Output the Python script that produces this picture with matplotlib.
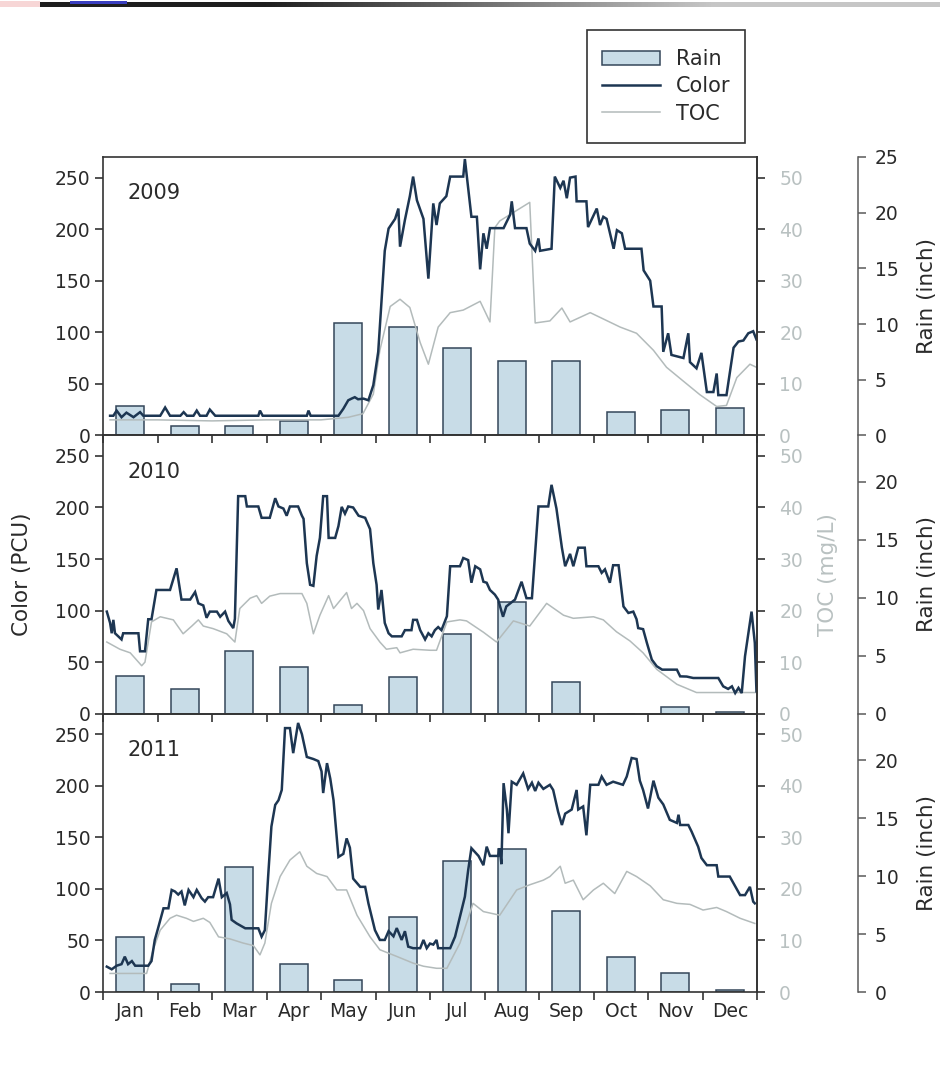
import numpy as np
import matplotlib
matplotlib.use("Agg")
import matplotlib.pyplot as plt
from matplotlib.patches import Patch, Rectangle
from matplotlib.lines import Line2D
from matplotlib.colors import LinearSegmentedColormap

plt.rcParams['font.family'] = ['DejaVu Sans']

# ---------------- data ----------------
months = ['Jan', 'Feb', 'Mar', 'Apr', 'May', 'Jun',
          'Jul', 'Aug', 'Sep', 'Oct', 'Nov', 'Dec']
years = ['2009', '2010', '2011']

# monthly rain (inch)
rain_2009 = [2.6, 0.8, 0.8, 1.25, 10.1, 9.7, 7.8, 6.7, 6.7, 2.1, 2.25, 2.45]
rain_2010 = [3.25, 2.1, 5.4, 4.05, 0.75, 3.2, 6.9, 9.65, 2.7, 0.0, 0.6, 0.15]
rain_2011 = [4.7, 0.7, 10.8, 2.4, 1.0, 6.5, 11.3, 12.35, 7.0, 3.0, 1.6, 0.2]

# Color (PCU): time in months since Jan 1, value
color_t_2009 = [0.13, 0.19, 0.25, 0.34, 0.43, 0.56, 0.68, 0.74, 1.05, 1.14, 1.23, 1.42,
                1.48, 1.54, 1.66, 1.72, 1.78, 1.90, 1.96, 2.06, 2.85, 2.88, 2.93, 3.74,
                3.77, 3.81, 4.32, 4.41, 4.50, 4.56, 4.62, 4.68, 4.78, 4.87, 4.96, 5.05,
                5.11, 5.17, 5.24, 5.36, 5.42, 5.45, 5.54, 5.63, 5.69, 5.76, 5.88, 5.97,
                6.06, 6.12, 6.18, 6.30, 6.37, 6.61, 6.64, 6.76, 6.86, 6.92, 6.98, 7.04,
                7.10, 7.35, 7.47, 7.50, 7.56, 7.77, 7.83, 7.93, 7.99, 8.02, 8.23, 8.29,
                8.39, 8.45, 8.51, 8.57, 8.67, 8.69, 8.87, 8.90, 9.06, 9.12, 9.18, 9.24,
                9.37, 9.43, 9.52, 9.58, 9.88, 9.92, 10.04, 10.10, 10.25, 10.28, 10.37,
                10.43, 10.65, 10.74, 10.77, 10.89, 10.98, 11.08, 11.20, 11.26, 11.29,
                11.44, 11.57, 11.66, 11.75, 11.84, 11.93, 11.99]
color_2009 = [19, 19, 24, 17.6, 22, 17.6, 22.5, 19, 19, 27, 19, 19,
              22.5, 19, 19, 24, 19, 19, 25, 19, 19, 24, 19, 19,
              24, 19, 19, 25.8, 34, 35.6, 37, 35, 35.6, 34, 48.7, 81,
              130, 179, 200.6, 210, 220, 183, 209, 232, 251, 228, 210, 152,
              225, 204, 225, 232, 251, 251, 268, 212, 212, 161, 196, 181,
              201, 201, 214, 227, 201, 201, 186, 179, 191, 179, 181, 251,
              240, 247, 230, 250, 251, 227, 227, 202, 220, 204, 212, 210,
              181, 199, 196, 181, 181, 160, 150, 125, 125, 81, 99,
              78, 75, 99, 71, 65, 80, 42, 42, 60, 39,
              39, 85, 91, 92, 99, 101, 93]

color_t_2010 = [0.07, 0.13, 0.16, 0.19, 0.22, 0.34, 0.37, 0.65, 0.68, 0.77, 0.83, 0.89,
                0.98, 1.23, 1.35, 1.44, 1.60, 1.69, 1.75, 1.84, 1.90, 1.96, 2.09, 2.15,
                2.24, 2.30, 2.39, 2.42, 2.48, 2.61, 2.64, 2.85, 2.91, 3.06, 3.16, 3.22,
                3.31, 3.37, 3.43, 3.58, 3.65, 3.68, 3.74, 3.80, 3.86, 3.92, 3.98, 4.04,
                4.11, 4.14, 4.26, 4.32, 4.38, 4.44, 4.50, 4.59, 4.69, 4.81, 4.90, 4.96,
                5.02, 5.05, 5.11, 5.17, 5.24, 5.30, 5.48, 5.54, 5.66, 5.69, 5.76, 5.82,
                5.91, 5.97, 6.03, 6.09, 6.15, 6.21, 6.31, 6.37, 6.55, 6.61, 6.70, 6.76,
                6.83, 6.92, 6.98, 7.04, 7.10, 7.19, 7.25, 7.34, 7.40, 7.56, 7.68, 7.77,
                7.87, 7.99, 8.17, 8.23, 8.32, 8.42, 8.48, 8.57, 8.63, 8.72, 8.84, 8.87,
                9.09, 9.15, 9.21, 9.30, 9.36, 9.46, 9.55, 9.64, 9.73, 9.79, 9.82, 9.91,
                9.98, 10.07, 10.16, 10.26, 10.53, 10.59, 10.71, 10.83, 11.29, 11.38, 11.47,
                11.54, 11.60, 11.66, 11.72, 11.78, 11.90, 11.96, 11.99]
color_2010 = [99, 88, 78, 91, 78, 72, 78, 78, 60.5, 60.5, 91.6, 91.6,
              120, 120, 141, 110.7, 110.7, 118, 107, 105, 93, 99, 99, 94,
              99, 90, 83, 92, 211, 211, 201, 201, 190, 190, 209, 201,
              199, 192, 201, 201, 192, 189, 146, 125, 124, 153, 170.5, 211,
              211, 170.5, 170.5, 182, 200.6, 194, 201, 200, 192, 190, 179, 146,
              125, 101, 120, 88, 78, 75, 75, 81, 81, 91, 91, 81,
              72, 78, 75, 81, 84, 81, 94.5, 143, 143, 151, 149, 127,
              143, 140, 128, 127, 120, 115.5, 110.7, 94, 104, 110.7, 128, 112,
              112, 201, 201, 222, 199, 161, 143, 155, 143, 161, 161, 143,
              143, 136.6, 140, 127, 144, 144, 104, 97.7, 99, 91.6, 83, 82,
              68.6, 52.4, 46, 42.7, 42.7, 36.2, 36, 34.6, 34.6, 26.5, 24,
              26.5, 20, 25, 20, 55.7, 99, 68.6, 21.7]

color_t_2011 = [0.07, 0.16, 0.25, 0.34, 0.40, 0.46, 0.53, 0.59, 0.74, 0.83, 0.89, 0.95,
                1.01, 1.11, 1.20, 1.26, 1.32, 1.38, 1.44, 1.50, 1.57, 1.66, 1.72, 1.81,
                1.87, 1.93, 2.02, 2.12, 2.18, 2.27, 2.33, 2.36, 2.45, 2.61, 2.85, 2.91,
                2.97, 3.03, 3.09, 3.16, 3.22, 3.28, 3.34, 3.43, 3.49, 3.58, 3.65, 3.74,
                3.86, 3.95, 4.01, 4.04, 4.11, 4.17, 4.23, 4.32, 4.41, 4.47, 4.53, 4.59,
                4.72, 4.81, 4.87, 4.99, 5.08, 5.17, 5.24, 5.33, 5.39, 5.48, 5.54, 5.60,
                5.69, 5.82, 5.88, 5.94, 6.00, 6.06, 6.12, 6.15, 6.37, 6.46, 6.55, 6.64,
                6.70, 6.76, 6.89, 6.98, 7.04, 7.10, 7.25, 7.28, 7.31, 7.35, 7.41, 7.44,
                7.50, 7.59, 7.71, 7.80, 7.87, 7.93, 7.99, 8.08, 8.20, 8.26, 8.35, 8.42,
                8.48, 8.60, 8.69, 8.72, 8.81, 8.87, 8.94, 9.09, 9.15, 9.24, 9.36, 9.54,
                9.61, 9.70, 9.79, 9.85, 9.91, 10.00, 10.10, 10.19, 10.28, 10.40, 10.53,
                10.56, 10.59, 10.74, 10.80, 10.92, 10.98, 11.08, 11.26, 11.29, 11.50,
                11.69, 11.78, 11.87, 11.93, 11.96]
color_2011 = [24.6, 22, 25.5, 27, 34.3, 27, 30, 25.5, 25.5, 25.5, 30, 50.5,
              61.8, 81.2, 81.2, 99, 97.5, 94.5, 97.5, 84, 99, 92, 99, 91,
              87.7, 92, 92, 110, 92, 96, 85, 70, 66.6, 61.8, 61.8, 53.7,
              60, 112, 160.5, 181.5, 186, 196, 256, 256, 231.7, 261, 250, 228,
              226, 224, 214, 193, 222, 207, 186, 131, 134, 149, 140, 110,
              102, 102, 86, 60, 50.5, 50.5, 59, 54, 62, 50.5, 59, 44,
              42.5, 42.5, 50.5, 42.5, 47, 46, 50.5, 42.5, 42.5, 53.7, 73, 92.5,
              118, 139.5, 132, 123, 141, 132, 132, 139.5, 124, 202.6, 177, 154,
              204, 201, 212, 197, 203, 195, 203, 197, 201, 196, 175, 162,
              173, 177, 196, 177, 180, 152, 201, 201, 209, 201, 204, 201,
              209, 227, 226, 205, 196, 178, 205, 188.5, 182, 167, 164,
              172, 162, 162, 155.6, 141, 130, 123, 123, 112, 112,
              94, 94, 102, 87.7, 86]

# TOC (mg/L)
toc_t_2009 = [0.13, 1.0, 2.0, 3.0, 4.0, 4.5, 4.77, 4.96, 5.08, 5.27, 5.45, 5.63, 5.82,
              5.97, 6.15, 6.37, 6.61, 6.92, 7.10, 7.19, 7.28, 7.83, 7.93, 8.20, 8.42,
              8.57, 8.94, 9.49, 9.79, 10.10, 10.34, 10.65, 10.95, 11.26, 11.44, 11.63,
              11.87, 11.99]
toc_2009 = [3.0, 3.0, 2.8, 3.0, 3.0, 3.5, 4.2, 8.0, 16.5, 25.0, 26.4, 24.8, 18.0,
            13.8, 21.0, 23.8, 24.3, 26.0, 22.0, 40.3, 41.6, 45.2, 21.8, 22.2, 24.7,
            22.0, 23.8, 21.0, 19.8, 16.5, 13.2, 10.5, 7.9, 5.6, 5.8, 11.2,
            13.8, 13.2]

toc_t_2010 = [0.07, 0.31, 0.50, 0.71, 0.77, 0.89, 1.05, 1.29, 1.47, 1.63, 1.75, 1.84,
              2.02, 2.27, 2.42, 2.51, 2.70, 2.82, 2.91, 3.06, 3.25, 3.65, 3.74, 3.86,
              3.98, 4.14, 4.23, 4.47, 4.56, 4.66, 4.78, 4.90, 5.08, 5.20, 5.39, 5.45,
              5.69, 6.00, 6.12, 6.31, 6.55, 6.67, 6.98, 7.22, 7.53, 7.83, 8.14, 8.45,
              8.63, 9.00, 9.18, 9.42, 9.67, 9.91, 10.16, 10.53, 10.89, 11.26, 11.63,
              11.99]
toc_2010 = [13.9, 12.5, 11.8, 9.3, 10.0, 17.8, 18.8, 18.2, 15.5, 17.0, 18.2, 17.0,
            16.5, 15.5, 13.9, 20.4, 22.4, 22.9, 21.4, 22.8, 23.3, 23.3, 21.4, 15.5,
            19.1, 22.9, 20.4, 23.5, 20.4, 21.4, 20.0, 16.5, 13.9, 12.5, 12.8, 11.8,
            12.5, 12.3, 12.3, 17.8, 18.2, 18.0, 15.8, 13.9, 18.0, 17.0, 21.4, 19.1,
            18.5, 18.8, 18.2, 15.9, 14.1, 11.8, 8.6, 5.7, 4.1, 4.1, 4.1,
            4.1]

toc_t_2011 = [0.13, 0.80, 0.92, 1.05, 1.23, 1.35, 1.53, 1.66, 1.84, 1.96, 2.12, 2.33,
              2.57, 2.76, 2.88, 2.97, 3.09, 3.25, 3.43, 3.61, 3.74, 3.92, 4.11, 4.29,
              4.47, 4.66, 4.90, 5.08, 5.39, 5.69, 5.88, 6.12, 6.31, 6.55, 6.70, 6.79,
              6.98, 7.28, 7.59, 7.83, 8.08, 8.20, 8.39, 8.48, 8.63, 8.81, 9.00, 9.18,
              9.39, 9.61, 9.79, 10.04, 10.28, 10.53, 10.77, 11.01, 11.26, 11.44, 11.69,
              11.96]
toc_2011 = [3.6, 3.6, 8.2, 12.0, 14.3, 14.9, 14.3, 13.7, 14.3, 13.5, 10.7, 10.3,
            9.5, 9.0, 7.2, 9.5, 17.2, 22.4, 25.6, 27.2, 24.4, 23.0, 22.4, 19.8,
            19.8, 14.9, 10.7, 8.2, 6.9, 5.6, 5.0, 4.6, 4.6, 9.5, 14.3, 17.2,
            15.6, 14.9, 19.8, 20.8, 21.7, 22.4, 24.4, 21.1, 21.7, 17.9, 19.8, 21.1,
            19.1, 23.4, 22.4, 20.6, 17.9, 17.2, 17.0, 15.9, 16.4, 15.6, 14.3,
            13.3]

rain_max = [25, 24, 24]
rain_ticks = [[0, 5, 10, 15, 20, 25], [0, 5, 10, 15, 20], [0, 5, 10, 15, 20]]
legend_labels = ['Rain', 'Color', 'TOC']

panels = [
    (years[0], rain_2009, color_t_2009, color_2009, toc_t_2009, toc_2009),
    (years[1], rain_2010, color_t_2010, color_2010, toc_t_2010, toc_2010),
    (years[2], rain_2011, color_t_2011, color_2011, toc_t_2011, toc_2011),
]

# ---------------- style ----------------
C_LINE = '#1d3652'
C_TOC = '#b3bbbb'
C_TOC_TXT = '#b9c1c1'
BAR_FC = '#c8dce7'
BAR_EC = '#34465a'
AX_C = '#333333'
TXT = '#2a2a2a'

W, H = 940, 1073
fig = plt.figure(figsize=(W / 100, H / 100), dpi=100)
fig.patch.set_facecolor('white')

L = 103 / W
R = 757 / W
TOP = 1 - 157 / H
BOT = 1 - 992 / H
PH = (TOP - BOT) / 3

xc = np.arange(12) + 0.5

for i, (yr, rain, ct, cv, tt, tv) in enumerate(panels):
    ax = fig.add_axes([L, TOP - (i + 1) * PH, R - L, PH])
    ax_r = ax.twinx()
    ax_t = ax.twinx()
    ax_r.set_zorder(1)
    ax_t.set_zorder(2)
    ax.set_zorder(3)
    ax.patch.set_visible(False)

    ax_r.bar(xc, rain, width=0.52, color=BAR_FC, edgecolor=BAR_EC, linewidth=1.1)
    ax_t.plot(tt, tv, color=C_TOC, lw=1.1)
    ax.plot(ct, cv, color=C_LINE, lw=1.8, solid_joinstyle='miter')

    # limits
    ax.set_xlim(0, 12)
    ax.set_ylim(0, 270)
    ax_t.set_ylim(0, 54)
    ax_r.set_ylim(0, rain_max[i])

    # spines
    for s in ax.spines.values():
        s.set_color(AX_C)
        s.set_linewidth(1.2)
    for nm in ['left', 'top', 'bottom']:
        ax_t.spines[nm].set_visible(False)
        ax_r.spines[nm].set_visible(False)
    ax_t.spines['right'].set_color(AX_C)
    ax_t.spines['right'].set_linewidth(1.2)
    ax_r.spines['right'].set_position(('axes', (858 - 103) / 654))
    ax_r.spines['right'].set_color('#5a5a5a')
    ax_r.spines['right'].set_linewidth(1.1)

    # ticks
    ax.set_yticks([0, 50, 100, 150, 200, 250])
    ax.tick_params(axis='y', direction='out', length=6, width=1.2, color=AX_C,
                   labelsize=13.5, labelcolor=TXT, pad=3)
    ax.set_xticks(range(13))
    ax.set_xticklabels([])
    ax.set_xticks(xc, minor=True)
    ax.tick_params(axis='x', which='major', direction='out', length=6, width=1.2,
                   color=AX_C)
    ax.tick_params(axis='x', which='minor', length=0, labelsize=13.5,
                   labelcolor=TXT, pad=7)
    if i == 2:
        ax.set_xticklabels(months, minor=True)
    else:
        ax.set_xticklabels([], minor=True)

    ax_t.set_yticks([0, 10, 20, 30, 40, 50])
    ax_t.tick_params(axis='y', direction='out', length=6, width=1.2, color=AX_C,
                     labelsize=13.5, labelcolor=C_TOC_TXT, pad=10)
    ax_r.set_yticks(rain_ticks[i])
    ax_r.tick_params(axis='y', direction='out', length=6, width=1.1, color='#5a5a5a',
                     labelsize=13.5, labelcolor=TXT, pad=6)

    ax.text(0.038, 0.87, yr, transform=ax.transAxes, fontsize=15, color=TXT,
            va='center', ha='left')

    ax_r.set_ylabel('Rain (inch)', fontsize=15.5, color=TXT)
    ax_r.yaxis.set_label_coords((917 - 103) / 654, 0.5)
    if i == 1:
        ax.set_ylabel('Color (PCU)', fontsize=15.5, color=TXT)
        ax.yaxis.set_label_coords((32 - 103) / 654, 0.5)
        ax_t.set_ylabel('TOC (mg/L)', fontsize=15.5, color=C_TOC_TXT)
        ax_t.yaxis.set_label_coords((818 - 103) / 654, 0.5)

# legend (frame drawn separately to match the box proportions)
handles = [Patch(facecolor=BAR_FC, edgecolor=BAR_EC, linewidth=1.1),
           Line2D([], [], color=C_LINE, lw=1.8),
           Line2D([], [], color=C_TOC, lw=1.1)]
bx0, by0, bx1, by1 = 587, 30, 745, 143
fig.patches.append(Rectangle((bx0 / W, 1 - by1 / H), (bx1 - bx0) / W, (by1 - by0) / H,
                             transform=fig.transFigure, fill=False,
                             edgecolor=AX_C, linewidth=1.2))
leg = fig.legend(handles, legend_labels, loc='center',
                 bbox_to_anchor=((bx0 + bx1) / 2 / W, 1 - (by0 + by1) / 2 / H),
                 bbox_transform=fig.transFigure,
                 frameon=False, fontsize=15,
                 handlelength=2.8, handletextpad=0.75, labelspacing=0.35,
                 borderpad=0.0, borderaxespad=0)
for t in leg.get_texts():
    t.set_color(TXT)

# top decoration bar
fig.patches.append(Rectangle((0, 1 - 7 / H), 40 / W, 6 / H, transform=fig.transFigure,
                             facecolor='#f7d6d6', edgecolor='none'))
axb = fig.add_axes([40 / W, 1 - 7 / H, 900 / W, 5 / H])
cmap = LinearSegmentedColormap.from_list('bar', ['#1e1e1e', '#c6c6c6'])
axb.imshow([[0.0, 1.0]], cmap=cmap, aspect='auto', interpolation='bilinear',
           extent=(0, 1, 0, 1))
axb.set_axis_off()
fig.patches.append(Rectangle((70 / W, 1 - 4 / H), 57 / W, 3 / H, transform=fig.transFigure,
                             facecolor='#3a3fc0', edgecolor='none', zorder=5))

fig.savefig('out.png', dpi=100, facecolor='white')
